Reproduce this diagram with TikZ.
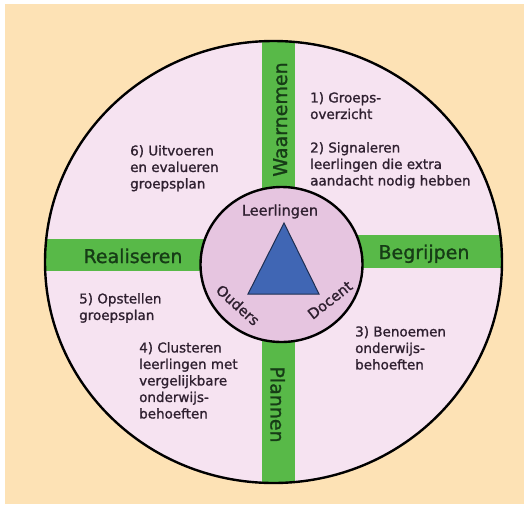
\documentclass[tikz,border=0pt]{standalone}
\usepackage{fontspec}
\setmainfont{DejaVu Sans}
\newfontfamily\heavier[FakeBold=1.2]{DejaVu Sans}
\usetikzlibrary{shapes.geometric,positioning}
\definecolor{peach}{HTML}{FDE2B5}
\definecolor{pinkbg}{HTML}{F6E3F1}
\definecolor{hubpink}{HTML}{E6C5E0}
\definecolor{bandgreen}{HTML}{58B948}
\definecolor{darkgreen}{HTML}{163C16}
\definecolor{ink}{HTML}{2F2030}
\definecolor{triblue}{HTML}{4066B4}

\begin{document}
\begin{tikzpicture}[x=1pt,y=-1pt,
    band/.style={fill=bandgreen},
    phase/.style={text=darkgreen,font=\heavier\fontsize{19}{22}\selectfont,inner sep=0pt,anchor=base},
    note/.style={text=ink,font=\heavier\fontsize{13.5}{16.5}\selectfont,align=left,anchor=north west,inner sep=0pt},
    actor/.style={text=ink,font=\heavier\fontsize{14.5}{17}\selectfont,inner sep=0pt}]
    \useasboundingbox (0,0) rectangle (524,504);
    \fill[peach] (5,4) rectangle (524,504);
    \fill[pinkbg] (273.5,262) ellipse [x radius=228.5pt, y radius=221pt];
    \begin{scope}
        \clip (273.5,262) ellipse [x radius=228.5pt, y radius=221pt];
        \fill[band] (262,30) rectangle (295,490);
        \fill[band] (30,239) rectangle (280,271);
        \fill[band] (280,235) rectangle (510,268);
    \end{scope}
    \draw[line width=2.4pt] (273.5,262) ellipse [x radius=228.5pt, y radius=221pt];
    \node(hub) [ellipse, draw, line width=2.4pt, fill=hubpink, minimum width=162pt, minimum height=155pt] at (281.5,264.5) {};
    \draw[fill=triblue, draw=triblue!45!black, line width=1pt] (284,223) -- (319,294) -- (248,294) -- cycle;

    % phases on the green bands
    \node(waar) [phase, rotate=90] at (287,119.5) {Waarnemen};
    \node(begr) [phase] at (424,259) {Begrijpen};
    \node(plan) [phase, rotate=-90] at (270.5,404.5) {Plannen};
    \node(real) [phase] at (133,263) {Realiseren};

    % actors in the hub
    \node(leer) [actor, anchor=base] at (280,215.5) {Leerlingen};
    \node(oud) [actor, rotate=-42] at (238,305) {Ouders};
    \node(doc) [actor, rotate=38] at (330,300) {Docent};

    % steps
    \node(s1) [note] at (310,92) {1) Groeps-\\overzicht};
    \node(s2) [note] at (310,142) {2) Signaleren\\leerlingen die extra\\aandacht nodig hebben};
    \node(s3) [note] at (355,326) {3) Benoemen\\onderwijs-\\behoeften};
    \node(s4) [note] at (139,342) {4) Clusteren\\leerlingen met\\vergelijkbare\\onderwijs-\\behoeften};
    \node(s5) [note] at (79,293) {5) Opstellen\\groepsplan};
    \node(s6) [note] at (130,145) {6) Uitvoeren\\en evalueren\\groepsplan};
\end{tikzpicture}
\end{document}
